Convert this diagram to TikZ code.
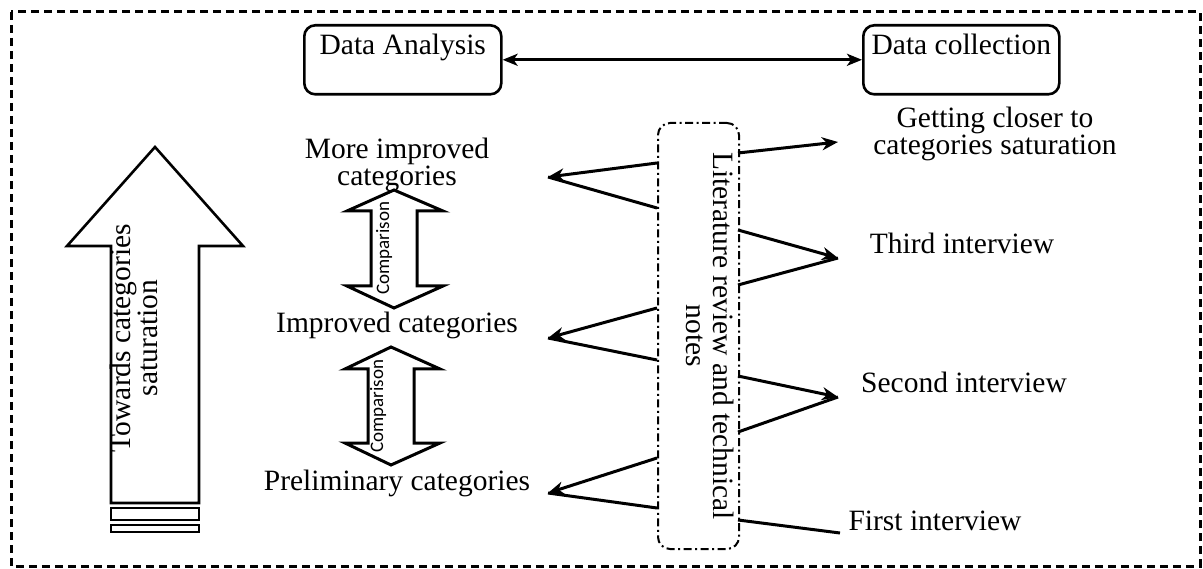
\documentclass[tikz,border=0pt]{standalone}
\usepackage{fontspec}
\setmainfont{Liberation Serif}
\newfontfamily\cmpfont{Carlito}
\usetikzlibrary{arrows.meta,calc}
\begin{document}
\begin{tikzpicture}[x=1pt,y=-1pt,line join=miter,
  txt/.style={font=\fontsize{29.5}{24}\selectfont, inner sep=0pt, align=center},
  box/.style={draw, line width=2.6pt, rounded corners=11pt, minimum width=197pt, minimum height=69pt, anchor=north west, inner sep=0pt},
  conn/.style={line width=3pt},
  vtip/.style={-{Stealth[length=16pt,width=13pt,inset=5pt]}},
  outline/.style={draw, line width=2.6pt},
  cmptext/.style={rotate=90, font=\cmpfont\fontsize{19}{20}\selectfont, inner sep=0pt},
  litbox/.style={draw, line width=2pt, dash pattern=on 8pt off 3.5pt on 2pt off 3.5pt, rounded corners=12pt, minimum width=81pt, minimum height=426pt, anchor=north west, inner sep=0pt}
]
\useasboundingbox (0,0) rectangle (1203,569);
\draw[line width=3pt, dash pattern=on 8pt off 5pt] (11,12) rectangle (1200,566);

% top boxes
\node[box] (da) at (303,24) {};
\node[txt, anchor=base] (dat) at ($(da.north)+(0,31)$) {Data Analysis};
\node[box, minimum width=196pt] (dc) at (862,24) {};
\node[txt, anchor=base] (dct) at ($(dc.north)+(0,31)$) {Data collection};
\draw[conn, {Stealth[length=15pt,width=12pt,inset=4pt]}-{Stealth[length=15pt,width=12pt,inset=4pt]}] (da.east) -- (dc.west);

% big arrow
\draw[outline] (111,503) -- (111,246) -- (67,246) -- (155,147) -- (243,246) -- (199,246) -- (199,503) -- cycle;
\draw[outline] (111,508) rectangle (199,520);
\draw[outline] (111,525) rectangle (199,532);
\node[txt, rotate=90, font=\fontsize{29.5}{27}\selectfont] (tw) at (134,338) {Towards categories\\saturation};

% categories
\node[txt] (mic) at (397,165) {More improved\\categories};
\node[txt, anchor=base] (ic) at (397,333) {Improved categories};
\node[txt, anchor=base] (pc) at (397,490) {Preliminary categories};

% comparison arrows
\draw[conn] (394,190) -- (443,211) -- (417,211) -- (417,286) -- (443,286) -- (394,308) -- (347,286) -- (371,286) -- (371,211) -- (347,211) -- cycle;
\node[cmptext] (c1) at (384,248) {Comparison};
\draw[conn] (391,347) -- (440,369) -- (414,369) -- (414,443) -- (440,443) -- (391,465) -- (345,443) -- (368,443) -- (368,369) -- (345,369) -- cycle;
\node[cmptext] (c2) at (378,406) {Comparison};

% literature box
\node[litbox] (lit) at (657,122) {};
\node[txt, rotate=-90, font=\fontsize{29.5}{27}\selectfont] (litt) at (710,336) {Literature review and technical\\notes};

% left V connectors
\coordinate (l1a) at (657,163); \coordinate (l1t) at (548,177); \coordinate (l1b) at (657,208);
\coordinate (l2a) at (657,308); \coordinate (l2t) at (548,338); \coordinate (l2b) at (657,360);
\coordinate (l3a) at (657,458); \coordinate (l3t) at (548,493); \coordinate (l3b) at (657,508);
\draw[conn, vtip] (l1a) -- (l1t); \draw[conn] (l1b) -- (l1t);
\draw[conn, vtip] (l2a) -- (l2t); \draw[conn] (l2b) -- (l2t);
\draw[conn, vtip] (l3a) -- (l3t); \draw[conn] (l3b) -- (l3t);

% right connectors
\coordinate (r0a) at (738,153); \coordinate (r0t) at (838,142);
\coordinate (r3a) at (738,230); \coordinate (r3t) at (838,258); \coordinate (r3b) at (738,285);
\coordinate (r2a) at (738,376); \coordinate (r2t) at (838,397); \coordinate (r2b) at (738,432);
\coordinate (r1a) at (738,520); \coordinate (r1e) at (840,533);
\draw[conn, vtip] (r0a) -- (r0t);
\draw[conn, vtip] (r3a) -- (r3t); \draw[conn] (r3b) -- (r3t);
\draw[conn, vtip] (r2a) -- (r2t); \draw[conn] (r2b) -- (r2t);
\draw[conn] (r1a) -- (r1e);

% right texts
\node[txt, font=\fontsize{29.5}{25}\selectfont] (gc) at (995,134) {Getting closer to\\categories saturation};
\node[txt, anchor=base] (ti) at (962,254) {Third interview};
\node[txt, anchor=base] (si) at (964,393) {Second interview};
\node[txt, anchor=base] (fi) at (935,530) {First interview};
\end{tikzpicture}
\end{document}
